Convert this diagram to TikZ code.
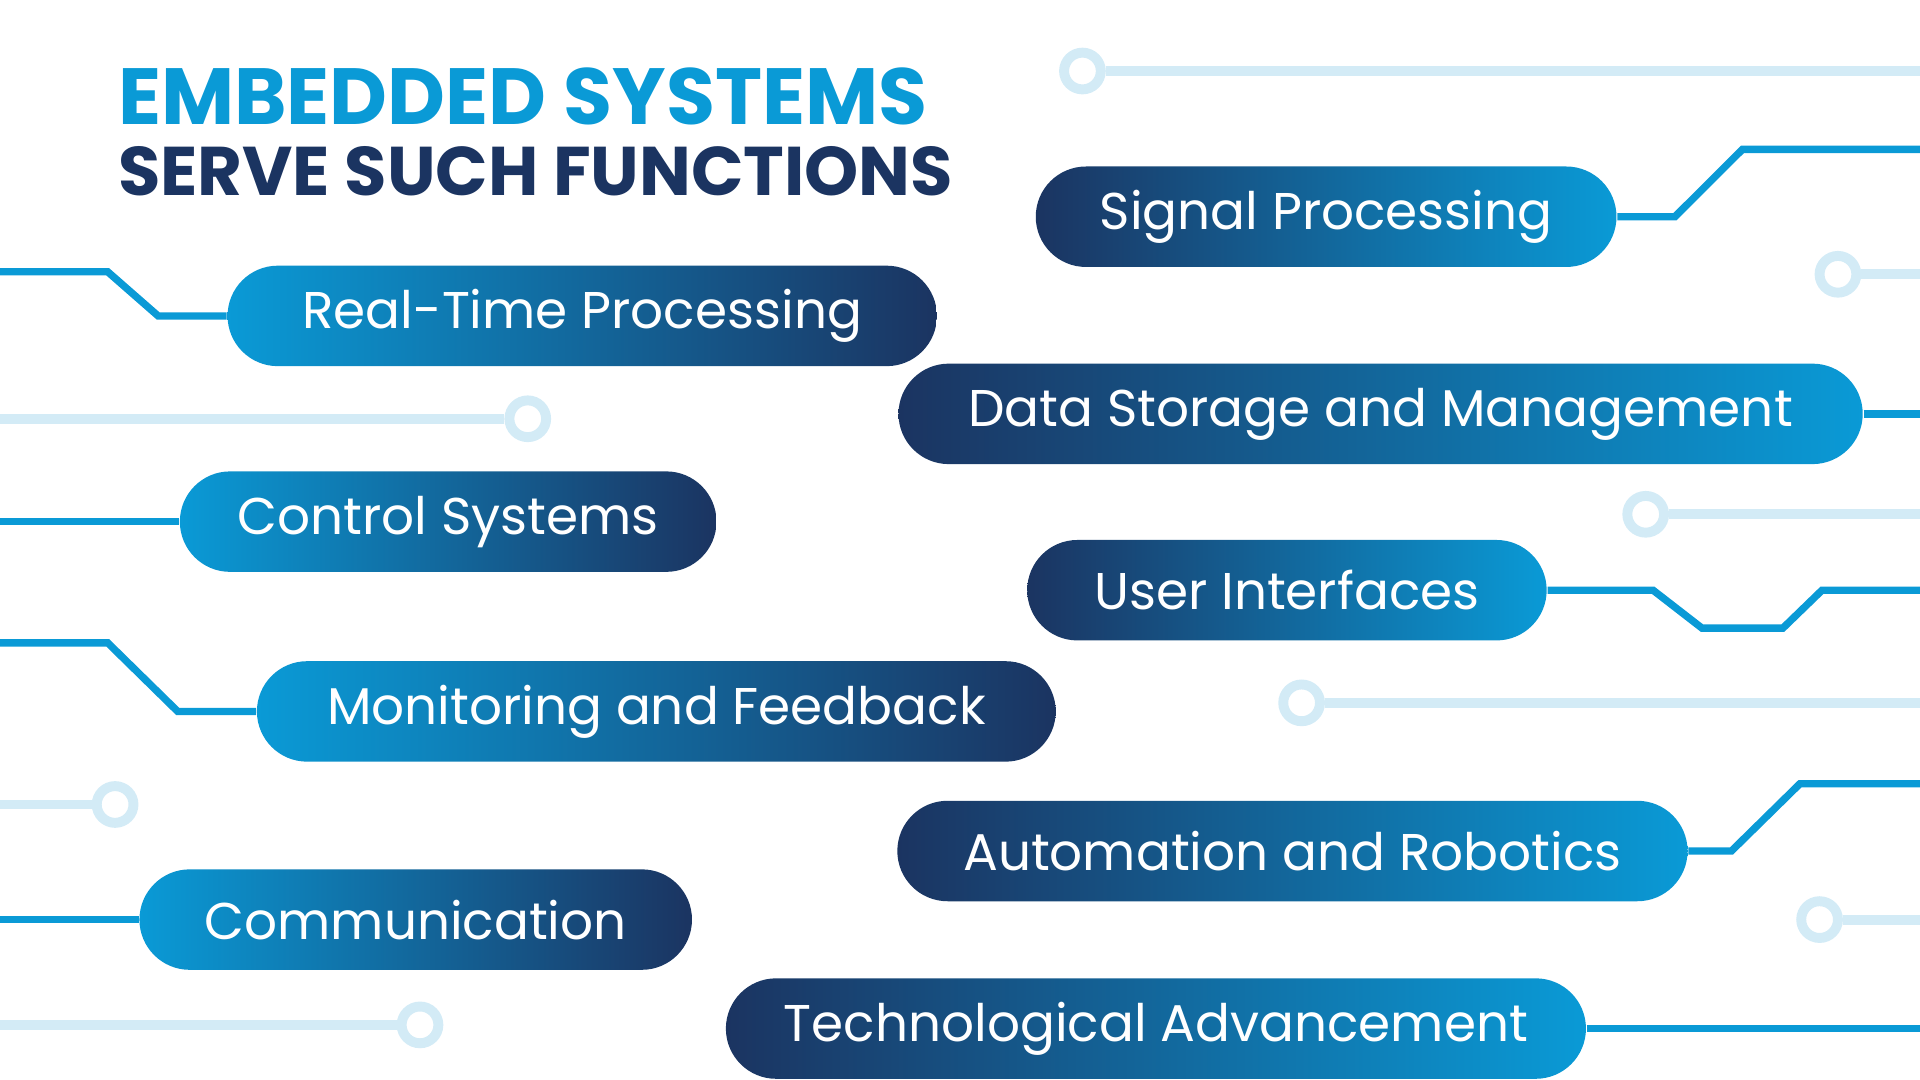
\documentclass[tikz,border=0pt]{standalone}
\usepackage{fontspec}
\setmainfont{Poppins}
\definecolor{eblue}{HTML}{0A9AD6}
\definecolor{enavy}{HTML}{1B3461}
\definecolor{elight}{HTML}{D3EBF6}
\begin{document}
\begin{tikzpicture}[x=0.01cm,y=-0.01cm,
  pill/.style={rounded corners=0.41cm,minimum height=0.82cm,inner sep=0pt,
    text=white,font=\fontsize{12}{14}\selectfont},
  lpill/.style={pill,left color=eblue,right color=enavy},
  rpill/.style={pill,left color=enavy,right color=eblue},
  trace/.style={eblue,line width=1.7pt},
  ghost/.style={elight,line width=2.3pt},
  ring/.style={circle,draw=elight,line width=2.3pt,fill=white,minimum size=0.3cm,inner sep=0pt}]
  \useasboundingbox (0,0) rectangle (1568,882);
  % title
  \node[anchor=base west,text=eblue,font=\fontsize{18.5}{20}\selectfont\bfseries] (t1) at (84,102) {EMBEDDED SYSTEMS};
  \node[anchor=base west,text=enavy,font=\fontsize{16}{18}\selectfont\bfseries] (t2) at (84,160) {SERVE SUCH FUNCTIONS};
  % faint traces with rings
  \node[ring] (r1) at (884,58) {};   \coordinate (e1) at (1568,58);
  \node[ring] (r2) at (1501,224) {}; \coordinate (e2) at (1568,224);
  \node[ring] (r3) at (431,342) {};  \coordinate (e3) at (0,342);
  \node[ring] (r4) at (1344,420) {}; \coordinate (e4) at (1568,420);
  \node[ring] (r5) at (1063,574) {}; \coordinate (e5) at (1568,574);
  \node[ring] (r6) at (94,657) {};   \coordinate (e6) at (0,657);
  \node[ring] (r7) at (1486,751) {}; \coordinate (e7) at (1568,751);
  \node[ring] (r8) at (343,837) {};  \coordinate (e8) at (0,837);
  \foreach \i in {1,...,8} \draw[ghost] (r\i) -- (e\i);
  % functions
  \node[rpill,minimum width=4.74cm] (sig) at (1083,177) {Signal Processing};
  \node[lpill,minimum width=5.79cm] (rtp) at (475.5,258) {Real-Time Processing};
  \node[rpill,minimum width=7.87cm] (dsm) at (1127.5,338) {Data Storage and Management};
  \node[lpill,minimum width=4.38cm] (ctl) at (366,426) {Control Systems};
  \node[rpill,minimum width=4.24cm] (ui) at (1051,482) {User Interfaces};
  \node[lpill,minimum width=6.52cm] (mon) at (536,581) {Monitoring and Feedback};
  \node[rpill,minimum width=6.45cm] (aut) at (1055.5,695) {Automation and Robotics};
  \node[lpill,minimum width=4.51cm] (com) at (339.5,751) {Communication};
  \node[rpill,minimum width=7.02cm] (tec) at (944,840) {Technological Advancement};
  % traces
  \coordinate (s1) at (1568,122);
  \coordinate (s2) at (0,222);
  \coordinate (s3) at (1568,338);
  \coordinate (s4) at (0,426);
  \coordinate (s5) at (1568,482);
  \coordinate (s6) at (0,525);
  \coordinate (s7) at (1568,640);
  \coordinate (s8) at (0,751);
  \coordinate (s9) at (1568,840);
  \draw[trace] (sig.east) -- ++(47,0) -- (1423,122) -- (s1);
  \draw[trace] (rtp.west) -- ++(-56,0) -- (88,222) -- (s2);
  \draw[trace] (dsm.east) -- (s3);
  \draw[trace] (ctl.west) -- (s4);
  \draw[trace] (ui.east) -- (1350,482) -- (1390,513) -- (1456,513) -- (1488,482) -- (s5);
  \draw[trace] (mon.west) -- ++(-64,0) -- (88,525) -- (s6);
  \draw[trace] (aut.east) -- (1414,695) -- (1470,640) -- (s7);
  \draw[trace] (com.west) -- (s8);
  \draw[trace] (tec.east) -- (s9);
\end{tikzpicture}
\end{document}
